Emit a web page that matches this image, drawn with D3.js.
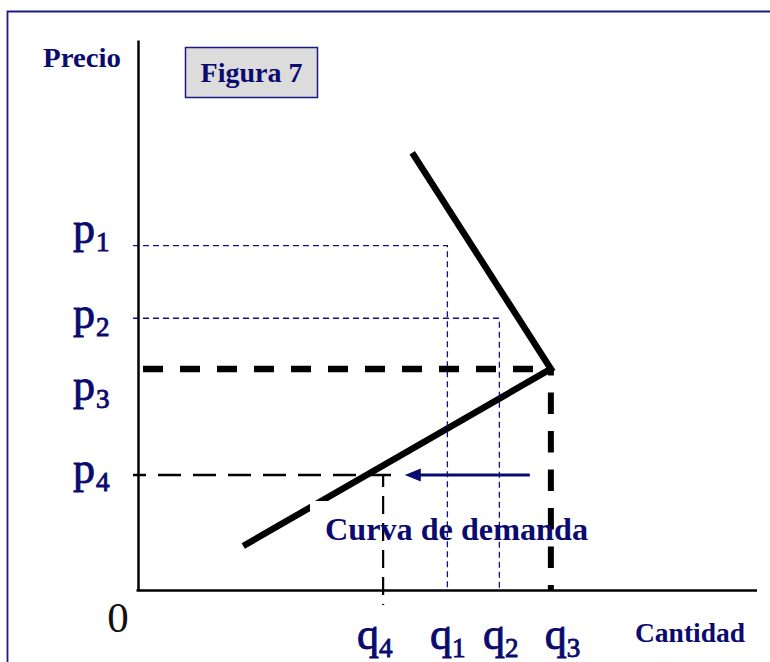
<!DOCTYPE html>
<html>
<head>
<meta charset="utf-8">
<script src="https://cdn.jsdelivr.net/npm/d3@7"></script>
<style>
  html, body { margin: 0; padding: 0; background: #fff; }
  svg { display: block; }
  text { font-family: "Liberation Serif", "Times New Roman", serif; }
</style>
</head>
<body>
<svg id="chart" width="770" height="662"></svg>
<script>
// ---- data ----
const priceSubs = ["1", "2", "3", "4"];
const priceValues = [62.7, 49.5, 40.2, 20.9];
const quantitySubs = ["4", "1", "2", "3"];
const quantityValues = [39.6, 49.9, 58.3, 66.7];
const demandQ = [44.3, 66.7, 17.0];
const demandP = [79.5, 40.2, 8.0];
const shiftQ = [63.3, 43.1]; // arrow from -> to, at price p4
const titleText = "Figura 7";
const yAxisTitle = "Precio";
const xAxisTitle = "Cantidad";
const curveLabel = "Curva de demanda";
const originLabel = "0";

// ---- setup ----
const navy = "#0b0b6f";
const guideBlue = "#10108a";
const svg = d3.select("#chart");
const x = d3.scaleLinear().domain([0, 100]).range([138, 757]);
const y = d3.scaleLinear().domain([0, 100]).range([590, 40]);

const P = {}; priceSubs.forEach((s, i) => P[s] = priceValues[i]);
const Q = {}; quantitySubs.forEach((s, i) => Q[s] = quantityValues[i]);

// outer frame
svg.append("path")
  .attr("d", "M7.5,680 V11.5 H790")
  .attr("fill", "none").attr("stroke", "#1a1a88").attr("stroke-width", 1.8);

// title box
svg.append("rect").attr("x", 185.5).attr("y", 47.5).attr("width", 132).attr("height", 50)
  .attr("fill", "#dcdcdc").attr("stroke", "#1a1a88").attr("stroke-width", 1.5);
svg.append("text").attr("x", 251.5).attr("y", 82).attr("text-anchor", "middle")
  .attr("font-size", 28).attr("font-weight", "bold").attr("fill", navy).text(titleText);

svg.append("text").attr("x", 43).attr("y", 67).attr("font-size", 28)
  .attr("font-weight", "bold").attr("fill", navy)
  .attr("textLength", 78).attr("lengthAdjust", "spacingAndGlyphs").text(yAxisTitle);

// demand curve
const demandPts = demandQ.map((q, i) => [x(q), y(demandP[i])]);
svg.append("path").attr("d", d3.line()(demandPts))
  .attr("fill", "none").attr("stroke", "#000").attr("stroke-width", 6.5)
  .attr("stroke-linejoin", "miter").attr("stroke-miterlimit", 10);

// white label box (hides part of the curve)
const labX = 325, labY = 540;
svg.append("rect").attr("x", labX - 15).attr("y", labY - 39).attr("width", 285).attr("height", 52)
  .attr("fill", "#fff");

// thin blue guides p1/q1, p2/q2
[["1", "1"], ["2", "2"]].forEach(([ps, qs]) => {
  svg.append("path")
    .attr("d", `M${x(0) - 5},${y(P[ps]) + 0.5} H${x(Q[qs]) + 0.5} V${y(0)}`)
    .attr("fill", "none").attr("stroke", guideBlue).attr("stroke-width", 1.3)
    .attr("stroke-dasharray", "6,4");
});

// thick guides p3/q3
svg.append("path").attr("d", `M${x(0)},${y(P["3"])} H${x(Q["3"])}`)
  .attr("fill", "none").attr("stroke", "#000").attr("stroke-width", 6.5)
  .attr("stroke-dasharray", "20,17").attr("stroke-dashoffset", 32);
svg.append("path").attr("d", `M${x(Q["3"])},${y(0)} V${y(P["3"])}`)
  .attr("fill", "none").attr("stroke", "#000").attr("stroke-width", 6)
  .attr("stroke-dasharray", "21.5,17").attr("stroke-dashoffset", 16.5);

// medium guides p4/q4
svg.append("path").attr("d", `M${x(0) - 5},${y(P["4"])} H${x(Q["4"]) + 12}`)
  .attr("fill", "none").attr("stroke", "#000").attr("stroke-width", 2.5)
  .attr("stroke-dasharray", "23,12").attr("stroke-dashoffset", 10);
svg.append("path").attr("d", `M${x(Q["4"])},${y(P["4"])} V${y(0) + 15}`)
  .attr("fill", "none").attr("stroke", "#000").attr("stroke-width", 2.2)
  .attr("stroke-dasharray", "18,9").attr("stroke-dashoffset", 6);

// axes
const yAxis = svg.append("g").attr("transform", `translate(${x(0)},0)`)
  .call(d3.axisLeft(y).tickValues([]).tickSizeOuter(0));
const xAxis = svg.append("g").attr("transform", `translate(0,${y(0)})`)
  .call(d3.axisBottom(x).tickValues([]).tickSizeOuter(0));
[yAxis, xAxis].forEach(g => g.select(".domain").attr("stroke", "#000").attr("stroke-width", 2.5));
xAxis.select(".domain").attr("d", `M${x(0) - 1.5},0.5H${x(100)}`);

// shift arrow
const ay = y(P["4"]);
const tip = x(shiftQ[1]);
svg.append("line").attr("x1", x(shiftQ[0])).attr("y1", ay).attr("x2", tip + 12).attr("y2", ay)
  .attr("stroke", navy).attr("stroke-width", 3);
svg.append("path").attr("d", `M${tip},${ay} L${tip + 16},${ay - 6.5} L${tip + 16},${ay + 6.5} Z`)
  .attr("fill", navy);

// curve label
svg.append("text").attr("x", labX).attr("y", labY).attr("font-size", 31)
  .attr("font-weight", "bold").attr("fill", navy)
  .attr("textLength", 263).attr("lengthAdjust", "spacingAndGlyphs").text(curveLabel);

// price labels
const pDy = { "1": -2, "2": 10, "3": 31, "4": 8 };
priceSubs.forEach((s, i) => {
  const t = svg.append("text").attr("x", 73).attr("y", y(priceValues[i]) + pDy[s])
    .attr("fill", navy).attr("stroke", navy).attr("stroke-width", 0.9).attr("font-size", 44);
  t.append("tspan").text("p");
  t.append("tspan").attr("dy", 8).attr("dx", 1).attr("font-size", 27).text(s);
});

// quantity labels
const qDx = { "4": -26, "1": -17, "2": -16, "3": -6 };
quantitySubs.forEach((s, i) => {
  const t = svg.append("text").attr("x", x(quantityValues[i]) + qDx[s]).attr("y", 649)
    .attr("fill", navy).attr("stroke", navy).attr("stroke-width", 0.9).attr("font-size", 44);
  t.append("tspan").text("q");
  t.append("tspan").attr("dy", 8).attr("dx", 0).attr("font-size", 27).text(s);
});

// origin & x title
svg.append("text").attr("x", 118).attr("y", 632).attr("text-anchor", "middle")
  .attr("font-size", 43).attr("fill", "#111").text(originLabel);
svg.append("text").attr("x", 635).attr("y", 642).attr("font-size", 27)
  .attr("font-weight", "bold").attr("fill", navy)
  .attr("textLength", 110).attr("lengthAdjust", "spacingAndGlyphs").text(xAxisTitle);
</script>
</body>
</html>
